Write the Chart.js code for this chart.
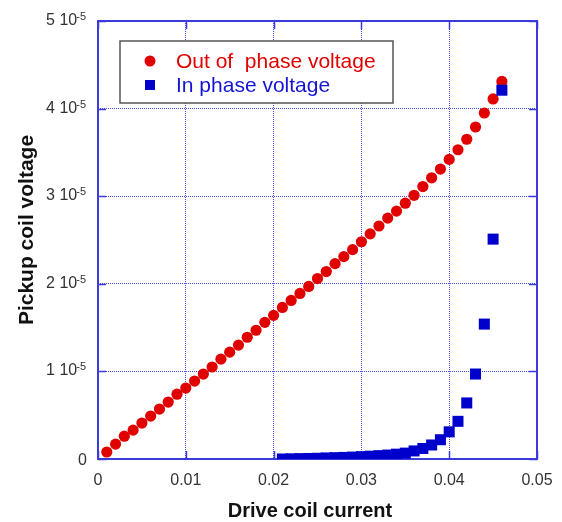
<!DOCTYPE html>
<html>
<head>
<meta charset="utf-8">
<script src="https://cdn.jsdelivr.net/npm/chart.js@4.4.1/dist/chart.umd.min.js"></script>
<style>
    html, body { margin: 0; padding: 0; background: #fff; }
    #wrap { width: 562px; height: 522px; }
</style>
</head>
<body>
<div id="wrap"><canvas id="coilchart" width="562" height="522"></canvas></div>
<script>
// drive coil current (A)
var currentOut = [0.001, 0.002, 0.003, 0.004, 0.005, 0.006, 0.007, 0.008, 0.009, 0.010,
    0.011, 0.012, 0.013, 0.014, 0.015, 0.016, 0.017, 0.018, 0.019, 0.020,
    0.021, 0.022, 0.023, 0.024, 0.025, 0.026, 0.027, 0.028, 0.029, 0.030,
    0.031, 0.032, 0.033, 0.034, 0.035, 0.036, 0.037, 0.038, 0.039, 0.040,
    0.041, 0.042, 0.043, 0.044, 0.045, 0.046];
// out of phase voltage, in units of 1e-5
var outPhase = [0.08, 0.17, 0.26, 0.33, 0.41, 0.49, 0.57, 0.65, 0.74, 0.81,
    0.89, 0.97, 1.05, 1.14, 1.22, 1.30, 1.39, 1.47, 1.56, 1.64,
    1.73, 1.81, 1.89, 1.97, 2.06, 2.14, 2.23, 2.31, 2.39, 2.48,
    2.57, 2.66, 2.75, 2.83, 2.92, 3.01, 3.11, 3.21, 3.31, 3.42,
    3.53, 3.65, 3.79, 3.95, 4.11, 4.31];

var currentIn = [0.021, 0.022, 0.023, 0.024, 0.025, 0.026, 0.027, 0.028, 0.029, 0.030,
    0.031, 0.032, 0.033, 0.034, 0.035, 0.036, 0.037, 0.038, 0.039, 0.040,
    0.041, 0.042, 0.043, 0.044, 0.045, 0.046];
// in phase voltage, in units of 1e-5
var inPhase = [0.000, 0.002, 0.004, 0.006, 0.008, 0.012, 0.015, 0.018, 0.022, 0.027,
    0.032, 0.038, 0.045, 0.055, 0.067, 0.092, 0.12, 0.16, 0.22, 0.31,
    0.43, 0.64, 0.97, 1.54, 2.51, 4.21];

var xTicks = [0, 0.01, 0.02, 0.03, 0.04, 0.05];
var xTickLabels = ['0', '0.01', '0.02', '0.03', '0.04', '0.05'];
var yTicks = [0, 1e-5, 2e-5, 3e-5, 4e-5, 5e-5];
var yTickMant = ['0', '1', '2', '3', '4', '5'];

var RED = '#e00000';
var BLUE = '#0000cc';
var AXIS = '#3b3bdc';
var GRID = '#4a4ae8';
var FONT = '"Liberation Sans", Arial, Helvetica, sans-serif';

function toPoints(xs, ys) {
    return xs.map(function(x, i) { return { x: x, y: ys[i] * 1e-5 }; });
}

// frame, inward ticks, tick labels, titles and legend
var decor = {
    id: 'decor',
    beforeDatasetsDraw: function(chart) {
        var ctx = chart.ctx, a = chart.chartArea;
        var xs = chart.scales.x, ys = chart.scales.y;
        ctx.save();
        ctx.strokeStyle = AXIS;
        ctx.lineWidth = 1.5;
        ctx.setLineDash([]);
        ctx.beginPath();
        xTicks.forEach(function(v) {
            var px = Math.round(xs.getPixelForValue(v)) + 0.5;
            ctx.moveTo(px, a.bottom); ctx.lineTo(px, a.bottom - 8);
            ctx.moveTo(px, a.top); ctx.lineTo(px, a.top + 8);
        });
        yTicks.forEach(function(v) {
            var py = Math.round(ys.getPixelForValue(v)) + 0.5;
            ctx.moveTo(a.left, py); ctx.lineTo(a.left + 8, py);
            ctx.moveTo(a.right, py); ctx.lineTo(a.right - 8, py);
        });
        ctx.stroke();
        ctx.lineWidth = 2;
        ctx.strokeRect(a.left, a.top, a.right - a.left, a.bottom - a.top);
        ctx.restore();
    },
    afterDraw: function(chart) {
        var ctx = chart.ctx, a = chart.chartArea;
        var xs = chart.scales.x, ys = chart.scales.y;
        ctx.save();
        ctx.fillStyle = '#333';
        ctx.font = '16px ' + FONT;
        ctx.textBaseline = 'alphabetic';

        // x tick labels
        ctx.textAlign = 'center';
        xTicks.forEach(function(v, i) {
            ctx.fillText(xTickLabels[i], xs.getPixelForValue(v), 485);
        });

        // y tick labels with a raised exponent
        yTicks.forEach(function(v, i) {
            var py = ys.getPixelForValue(v);
            if (v === 0) {
                ctx.font = '16px ' + FONT;
                ctx.textAlign = 'right';
                ctx.fillText('0', 87, py + 6);
                return;
            }
            ctx.font = '11px ' + FONT;
            ctx.textAlign = 'right';
            ctx.fillText('-5', 86, py - 1);
            var ew = ctx.measureText('-5').width;
            ctx.font = '16px ' + FONT;
            ctx.fillText(yTickMant[i] + ' 10', 86 - ew + 1, py + 4);
        });

        // axis titles
        ctx.fillStyle = '#111';
        ctx.font = 'bold 20px ' + FONT;
        ctx.textAlign = 'center';
        ctx.fillText('Drive coil current', 310, 517);
        ctx.save();
        ctx.translate(33, 230);
        ctx.rotate(-Math.PI / 2);
        ctx.font = 'bold 21px ' + FONT;
        ctx.fillText('Pickup coil voltage', 0, 0);
        ctx.restore();

        // legend
        ctx.fillStyle = '#fff';
        ctx.fillRect(120, 41, 273, 62);
        ctx.strokeStyle = '#555';
        ctx.lineWidth = 1.5;
        ctx.strokeRect(120, 41, 273, 62);
        ctx.fillStyle = RED;
        ctx.beginPath();
        ctx.arc(150, 61, 5.5, 0, Math.PI * 2);
        ctx.fill();
        ctx.fillStyle = BLUE;
        ctx.fillRect(145, 80, 10, 10);
        ctx.font = '21px ' + FONT;
        ctx.textAlign = 'left';
        ctx.fillStyle = RED;
        ctx.fillText('Out of  phase voltage', 176, 68);
        ctx.fillStyle = '#1414d4';
        ctx.fillText('In phase voltage', 176, 92);
        ctx.restore();
    }
};

var ctx = document.getElementById('coilchart').getContext('2d');
window.coilChart = new Chart(ctx, {
    type: 'scatter',
    data: {
        datasets: [{
            label: 'Out of  phase voltage',
            data: toPoints(currentOut, outPhase),
            pointStyle: 'circle',
            pointRadius: 5.6,
            backgroundColor: RED,
            borderColor: RED,
            borderWidth: 0,
            order: 2
        }, {
            label: 'In phase voltage',
            data: toPoints(currentIn, inPhase),
            pointStyle: 'rect',
            pointRadius: 7.8,
            backgroundColor: BLUE,
            borderColor: BLUE,
            borderWidth: 0,
            order: 1
        }]
    },
    options: {
        responsive: false,
        animation: false,
        layout: { padding: { top: 21, right: 25, left: 0, bottom: 0 } },
        plugins: {
            legend: { display: false },
            tooltip: { enabled: false }
        },
        scales: {
            x: {
                type: 'linear',
                min: 0,
                max: 0.05,
                afterBuildTicks: function(scale) {
                    scale.ticks = xTicks.map(function(v) { return { value: v }; });
                },
                afterFit: function(scale) { scale.height = 63; },
                ticks: { display: false },
                border: { display: false, dash: [1, 1] },
                grid: { color: GRID, lineWidth: 1, drawTicks: false }
            },
            y: {
                type: 'linear',
                min: 0,
                max: 5e-5,
                afterBuildTicks: function(scale) {
                    scale.ticks = yTicks.map(function(v) { return { value: v }; });
                },
                afterFit: function(scale) { scale.width = 98; },
                ticks: { display: false },
                border: { display: false, dash: [1, 1] },
                grid: { color: GRID, lineWidth: 1, drawTicks: false }
            }
        }
    },
    plugins: [decor]
});
</script>
</body>
</html>
